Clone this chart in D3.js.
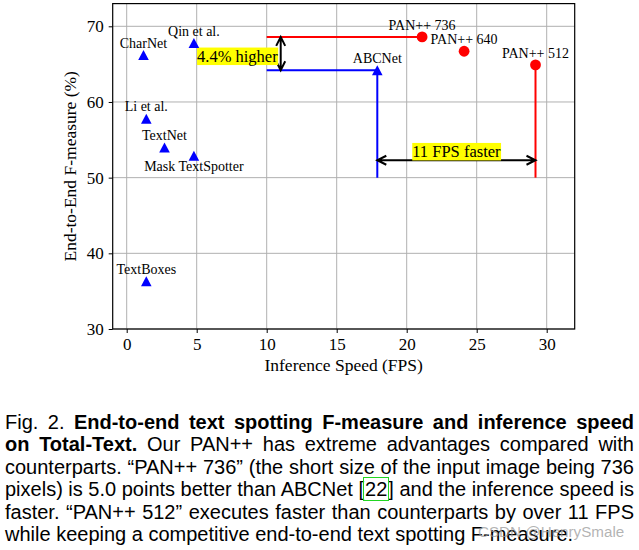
<!DOCTYPE html>
<html><head><meta charset="utf-8">
<script src="https://cdn.jsdelivr.net/npm/d3@7"></script>
<style>
body{margin:0;background:#fff;width:639px;height:550px;overflow:hidden;position:relative;}
svg{position:absolute;left:0;top:0;z-index:2;}
#cap{position:absolute;left:5px;top:411px;width:640px;font-family:"Liberation Sans",Arial,sans-serif;font-size:20px;color:#000;z-index:1;}
#cap .row{height:22.4px;line-height:22.4px;white-space:nowrap;}
#cap .ln{display:inline-block;white-space:nowrap;}
#cap b{font-weight:bold;}
#cap .ref{outline:1.6px solid #22d622;outline-offset:0px;padding:0 1px;}
</style>
</head><body>
<div id="cap"></div>
<script>
// ---- data ----
const methodNames = ["CharNet", "Qin et al.", "Li et al.", "TextNet", "Mask TextSpotter", "TextBoxes", "ABCNet"];
const methodFPS = [1.2, 4.8, 1.4, 2.7, 4.8, 1.4, 17.9];
const methodFmeasure = [66.2, 67.8, 57.8, 54.0, 52.9, 36.3, 64.2];
const panNames = ["PAN++ 736", "PAN++ 640", "PAN++ 512"];
const panFPS = [21.1, 24.1, 29.2];
const panFmeasure = [68.6, 66.7, 64.9];
const xTickValues = [0, 5, 10, 15, 20, 25, 30];
const yTickValues = [30, 40, 50, 60, 70];
const labelsBelow = ["Mask TextSpotter"];
const guideStartFPS = 10, guideBaseF = 50, fpsArrowF = 52.3;
const higherText = "4.4% higher", fasterText = "11 FPS faster";
const xLabel = "Inference Speed (FPS)", yLabel = "End-to-End F-measure (%)";

const captionLines = [
  [["n","Fig. 2. "],["b","End-to-end text spotting F-measure and inference speed"]],
  [["b","on Total-Text."],["n"," Our PAN++ has extreme advantages compared with"]],
  [["n","counterparts. \u201CPAN++ 736\u201D (the short size of the input image being 736"]],
  [["n","pixels) is 5.0 points better than ABCNet ["],["r","22"],["n","] and the inference speed is"]],
  [["n","faster. \u201CPAN++ 512\u201D executes faster than counterparts by over 11 FPS"]],
  [["n","while keeping a competitive end-to-end text spotting F-measure."]]
];

// ---- chart ----
const W = 639, H = 550;
const serif = "'Liberation Serif','Times New Roman',serif";
const x = d3.scaleLinear().domain([-1, 32]).range([112.7, 574.7]);
const y = d3.scaleLinear().domain([30, 73]).range([329, 3.6]);
const [x0, x1] = x.range(), [y0, y1] = y.range();

const svg = d3.select("body").append("svg").attr("width", W).attr("height", H);

// grid
svg.append("g").selectAll("line").data(xTickValues).join("line")
  .attr("x1", d => x(d)).attr("x2", d => x(d)).attr("y1", y0).attr("y2", y1)
  .attr("stroke", "#b0b0b0").attr("stroke-width", 1);
svg.append("g").selectAll("line").data(yTickValues).join("line")
  .attr("y1", d => y(d)).attr("y2", d => y(d)).attr("x1", x0).attr("x2", x1)
  .attr("stroke", "#b0b0b0").attr("stroke-width", 1);

// axes
const gx = svg.append("g").attr("transform", `translate(0,${y0})`)
  .call(d3.axisBottom(x).tickValues(xTickValues).tickSize(4).tickPadding(5).tickFormat(d3.format("d")));
const gy = svg.append("g").attr("transform", `translate(${x0},0)`)
  .call(d3.axisLeft(y).tickValues(yTickValues).tickSize(4).tickPadding(5).tickFormat(d3.format("d")));
[gx, gy].forEach(g => {
  g.select(".domain").remove();
  g.attr("font-family", serif).attr("font-size", 17);
  g.selectAll(".tick line").attr("stroke", "#000").attr("stroke-width", 1);
  g.selectAll(".tick text").attr("fill", "#000");
});

// frame
svg.append("rect").attr("x", x0).attr("y", y1).attr("width", x1 - x0).attr("height", y0 - y1)
  .attr("fill", "none").attr("stroke", "#000").attr("stroke-width", 1.2);

// axis labels
svg.append("text").attr("x", (x0 + x1) / 2).attr("y", 371).attr("text-anchor", "middle")
  .attr("font-family", serif).attr("font-size", 17.5).text(xLabel);
svg.append("text").attr("transform", `translate(76,${(y0 + y1) / 2}) rotate(-90)`).attr("text-anchor", "middle")
  .attr("font-family", serif).attr("font-size", 17.5).text(yLabel);

// guide lines
const abcI = methodNames.indexOf("ABCNet");
const abcX = methodFPS[abcI], abcF = methodFmeasure[abcI];
const guides = [
  {c: "#ff0000", pts: [[guideStartFPS, panFmeasure[0]], [panFPS[0], panFmeasure[0]]]},
  {c: "#ff0000", pts: [[panFPS[2], panFmeasure[2]], [panFPS[2], guideBaseF]]},
  {c: "#0000ff", pts: [[guideStartFPS, abcF], [abcX, abcF], [abcX, guideBaseF]]}
];
const line = d3.line().x(d => x(d[0])).y(d => y(d[1]));
svg.append("g").selectAll("path").data(guides).join("path")
  .attr("d", d => line(d.pts)).attr("fill", "none").attr("stroke", d => d.c).attr("stroke-width", 2);

// double arrows
function dblArrow(ax, ay, bx, by) {
  const a = Math.atan2(by - ay, bx - ax), L = 9, Wd = 4.5;
  const head = (px, py, ang) => {
    const hx = px - L * Math.cos(ang), hy = py - L * Math.sin(ang);
    const nx = -Math.sin(ang) * Wd, ny = Math.cos(ang) * Wd;
    return `M${hx + nx},${hy + ny}L${px},${py}L${hx - nx},${hy - ny}`;
  };
  return `M${ax},${ay}L${bx},${by}` + head(bx, by, a) + head(ax, ay, a + Math.PI);
}
const arrowX = x(11);
svg.append("path").attr("d", dblArrow(arrowX, y(panFmeasure[0]), arrowX, y(abcF)))
  .attr("fill", "none").attr("stroke", "#000").attr("stroke-width", 2);
svg.append("path").attr("d", dblArrow(x(abcX), y(fpsArrowF), x(panFPS[2]), y(fpsArrowF)))
  .attr("fill", "none").attr("stroke", "#000").attr("stroke-width", 2);

// highlighted texts
function highlight(tx, ty, anchor, str) {
  const g = svg.append("g");
  const t = g.append("text").attr("x", tx).attr("y", ty).attr("text-anchor", anchor)
    .attr("font-family", serif).attr("font-size", 16.5).attr("fill", "#000").text(str);
  const b = t.node().getBBox();
  g.insert("rect", "text").attr("x", b.x).attr("y", b.y + 1).attr("width", b.width).attr("height", b.height - 1.5)
    .attr("fill", "#ffff00");
}
highlight(arrowX - 3, (y(panFmeasure[0]) + y(abcF)) / 2 + 8, "end", higherText);
highlight((x(abcX) + x(panFPS[2])) / 2, y(fpsArrowF) - 3.3, "middle", fasterText);

// markers
const methods = methodNames.map((n, i) => ({n, fps: methodFPS[i], f: methodFmeasure[i]}));
const pans = panNames.map((n, i) => ({n, fps: panFPS[i], f: panFmeasure[i]}));
svg.append("g").selectAll("path").data(methods).join("path")
  .attr("transform", d => `translate(${x(d.fps)},${y(d.f)})`)
  .attr("d", "M0,-5L5.3,5L-5.3,5Z").attr("fill", "#0000ff");
svg.append("g").selectAll("circle").data(pans).join("circle")
  .attr("cx", d => x(d.fps)).attr("cy", d => y(d.f)).attr("r", 5.4).attr("fill", "#ff0000");

// point labels
svg.append("g").selectAll("text").data(methods.concat(pans)).join("text")
  .attr("x", d => x(d.fps))
  .attr("y", d => labelsBelow.includes(d.n) ? y(d.f) + 15 : y(d.f) - 7.3)
  .attr("text-anchor", "middle").attr("font-family", serif).attr("font-size", 14).attr("fill", "#000")
  .text(d => d.n);

// watermark
svg.append("text").attr("x", 478).attr("y", 536.7).attr("font-family", "'Liberation Sans',Arial,sans-serif")
  .attr("font-size", 15.2).attr("fill", "#9a9a9a").attr("fill-opacity", 0.75).text("CSDN @HenrySmale");

// caption (justified by word spacing)
const capWidth = 629;
const cap = d3.select("#cap");
captionLines.forEach((parts, i) => {
  const row = cap.append("div").attr("class", "row");
  const ln = row.append("span").attr("class", "ln");
  parts.forEach(([k, s]) => {
    if (k === "b") ln.append("b").text(s);
    else if (k === "r") ln.append("span").attr("class", "ref").text(s);
    else ln.append("span").text(s);
  });
  if (i < captionLines.length - 1) {
    const natural = ln.node().getBoundingClientRect().width;
    const spaces = parts.map(p => p[1]).join("").split(" ").length - 1;
    ln.style("word-spacing", ((capWidth - natural) / spaces) + "px");
  }
});
</script>
</body></html>
